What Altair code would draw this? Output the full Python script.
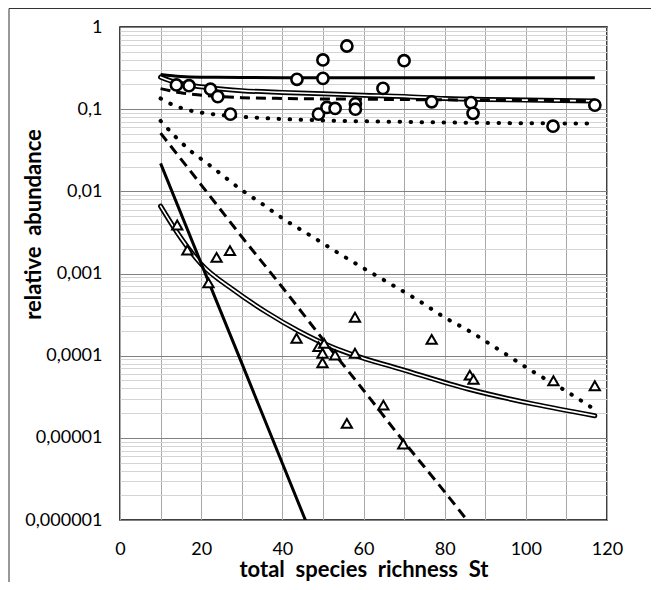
import altair as alt
import pandas as pd

# ---------------- data ----------------
circle_x = [13.9, 17.0, 22.3, 24.1, 27.2, 43.6, 50.0, 50.0, 48.9, 51.0, 53.0,
            55.9, 58.0, 58.0, 64.8, 70.0, 76.8, 86.5, 87.0, 106.7, 117.0]
circle_y = [0.197, 0.193, 0.175, 0.142, 0.087, 0.231, 0.397, 0.237, 0.087, 0.105, 0.102,
            0.587, 0.116, 0.100, 0.179, 0.389, 0.123, 0.120, 0.089, 0.062, 0.112]

tri_x = [14.1, 16.6, 21.8, 23.8, 27.1, 43.5, 48.9, 50.3, 49.9, 49.9, 53.0,
         57.9, 57.9, 55.9, 64.9, 69.8, 76.8, 86.2, 87.1, 106.8, 117.0]
tri_y = [0.00389, 0.00193, 0.00077, 0.00157, 0.0019, 0.000163, 0.000129, 0.000141,
         0.000107, 0.000082, 0.000102, 0.000107, 0.000293, 0.000015, 0.000025,
         0.0000084, 0.000158, 0.000058, 0.0000515, 0.0000495, 0.000043]

solid_top_x = [10, 15, 20, 30, 40, 60, 117]
solid_top_y = [0.265, 0.25, 0.245, 0.243, 0.242, 0.242, 0.242]

double_top_x = [10, 14, 17, 22, 30, 40, 50, 60, 70, 80, 90, 100, 117]
double_top_y = [0.245, 0.21, 0.197, 0.182, 0.168, 0.16, 0.154, 0.148, 0.143, 0.135,
                0.131, 0.129, 0.126]

dashed_top_x = [10, 15, 20, 25, 30, 40, 60, 80, 117]
dashed_top_y = [0.178, 0.158, 0.148, 0.142, 0.138, 0.135, 0.132, 0.13, 0.127]

dotted_top_x = [10, 13, 17, 22, 27, 35, 50, 70, 90, 117]
dotted_top_y = [0.135, 0.113, 0.097, 0.088, 0.083, 0.078, 0.073, 0.07, 0.068, 0.067]

dotted_low_x = [10, 13.7, 17.4, 21.5, 25.7, 29.7, 34.2, 40.3, 46.9, 53.6, 60, 66.6,
                73.5, 80.1, 86, 92.8, 102.2, 108.8, 115.3, 117]
dotted_low_y = [0.072, 0.046, 0.031, 0.0219, 0.0151, 0.0106, 0.0075, 0.0046, 0.0029,
                0.0018, 0.00116, 0.00075, 0.00047, 0.00029, 0.0002, 0.000123,
                0.000062, 0.00004, 0.000025, 0.000022]

dashed_low_x = [10, 20, 30, 40, 50, 60, 70, 80, 87]
dashed_low_y = [0.051, 0.012, 0.0028, 0.00068, 0.000158, 0.000038, 0.0000089,
                0.0000022, 0.0000008]

solid_low_x = [10, 20, 30, 40, 47]
solid_low_y = [0.0219, 0.00133, 0.000081, 0.0000049, 0.00000069]

double_low_x = [10, 14, 20, 28, 36, 44, 52, 58, 69, 86, 102, 117]
double_low_y = [0.0066, 0.0032, 0.0013, 0.00063, 0.00034, 0.0002, 0.000129, 0.0001,
                0.000069, 0.000039, 0.0000257, 0.0000186]

x_ticks = [0, 10, 20, 30, 40, 50, 60, 70, 80, 90, 100, 110, 120]
decades = [0.000001, 0.00001, 0.0001, 0.001, 0.01, 0.1, 1]
decade_labels = ["0,000001", "0,00001", "0,0001", "0,001", "0,01", "0,1", "1"]
minor_mult = [2, 3, 4, 5, 6, 7, 8, 9]

# ---------------- scales / axes ----------------
y_values = list(decades)
for d in decades[:-1]:
    for m in minor_mult:
        y_values.append(round(d * m, 10))

label_expr = ""
for v, t in zip(decades, decade_labels):
    label_expr += f"abs(datum.value - {v}) < {v}*1e-6 ? '{t}' : "
label_expr += "''"

decade_test = " || ".join(f"abs(datum.value - {v}) < {v}*1e-6" for v in decades)

FONT = "Lato"
NB = "\u00a0"

x_scale = alt.Scale(domain=[0, 120], nice=False)
y_scale = alt.Scale(type="log", domain=[0.000001, 1], nice=False)

x_axis = alt.Axis(values=x_ticks, labelExpr="datum.value % 20 == 0 ? datum.label : ''",
                  grid=True, gridColor="#a8a8a8", gridWidth=1, ticks=False, tickSize=0,
                  domain=False, labelFont=FONT, labelFontSize=18, labelColor="#000",
                  labelPadding=20, labelFlush=False,
                  title=f"total{NB} species{NB} richness{NB} St",
                  titleFont=FONT, titleFontSize=22, titleFontWeight="bold", titleColor="#000",
                  titleX=243.5, titleY=56, titleBaseline="alphabetic", titleAlign="center")

y_axis = alt.Axis(values=y_values, labelExpr=label_expr,
                  grid=True,
                  gridColor={"condition": {"test": decade_test, "value": "#808080"}, "value": "#d4d4d4"},
                  gridWidth=1, ticks=False, tickSize=0, domain=False,
                  labelFont=FONT, labelFontSize=18, labelColor="#000", labelPadding=18,
                  labelFlush=False, labelOverlap=False,
                  title=f"relative{NB} abundance",
                  titleFont=FONT, titleFontSize=22, titleFontWeight="bold", titleColor="#000",
                  titleX=-80, titleY=197, titleAngle=-90, titleBaseline="alphabetic",
                  titleAlign="center")


def line_df(xs, ys):
    return pd.DataFrame({"x": xs, "y": ys})


def base(df):
    return alt.Chart(df).encode(
        x=alt.X("x:Q", scale=x_scale, axis=x_axis),
        y=alt.Y("y:Q", scale=y_scale, axis=y_axis),
    )


layers = []

# double lines: thick black + thin white core
for xs, ys in [(double_top_x, double_top_y), (double_low_x, double_low_y)]:
    df = line_df(xs, ys)
    layers.append(base(df).mark_line(color="black", strokeWidth=5, interpolate="monotone",
                                     clip=True, strokeCap="round"))
    layers.append(base(df).mark_line(color="white", strokeWidth=1.6, interpolate="monotone",
                                     clip=True, strokeCap="round"))

# solid lines
for xs, ys in [(solid_top_x, solid_top_y), (solid_low_x, solid_low_y)]:
    layers.append(base(line_df(xs, ys)).mark_line(color="black", strokeWidth=3,
                                                  interpolate="monotone", clip=True))

# dashed lines
for xs, ys in [(dashed_top_x, dashed_top_y), (dashed_low_x, dashed_low_y)]:
    layers.append(base(line_df(xs, ys)).mark_line(color="black", strokeWidth=3,
                                                  strokeDash=[10, 6], interpolate="monotone",
                                                  clip=True))

# dotted lines
for xs, ys in [(dotted_top_x, dotted_top_y), (dotted_low_x, dotted_low_y)]:
    layers.append(base(line_df(xs, ys)).mark_line(color="black", strokeWidth=4,
                                                  strokeDash=[0.5, 10.5], strokeCap="round",
                                                  interpolate="monotone", clip=True))

# markers
layers.append(base(line_df(circle_x, circle_y)).mark_point(
    shape="circle", size=125, filled=False, fill="white", fillOpacity=1,
    stroke="black", strokeWidth=2.6, opacity=1))
layers.append(base(line_df(tri_x, tri_y)).mark_point(
    shape="triangle-up", size=105, filled=False, fill="white", fillOpacity=1,
    stroke="black", strokeWidth=2, opacity=1))

# outer chart frame (top and left edges only)
one = pd.DataFrame({"a": [0]})
frame_left = alt.Chart(one).mark_rule(stroke="#333333", strokeWidth=1).encode(
    x=alt.value(-111), y=alt.value(-18.5), y2=alt.value(700))
frame_top = alt.Chart(one).mark_rule(stroke="#333333", strokeWidth=1).encode(
    x=alt.value(-111), x2=alt.value(700), y=alt.value(-18.5))
layers += [frame_left, frame_top]

chart = alt.layer(*layers).properties(
    width=487, height=493,
    autosize=alt.AutoSizeParams(type="none"),
    padding={"left": 112, "top": 19, "right": 44, "bottom": 62},
    background="white",
).configure_view(stroke="black", strokeWidth=1.5)

chart.save("out.html", embed_options={"renderer": "svg", "actions": False})
